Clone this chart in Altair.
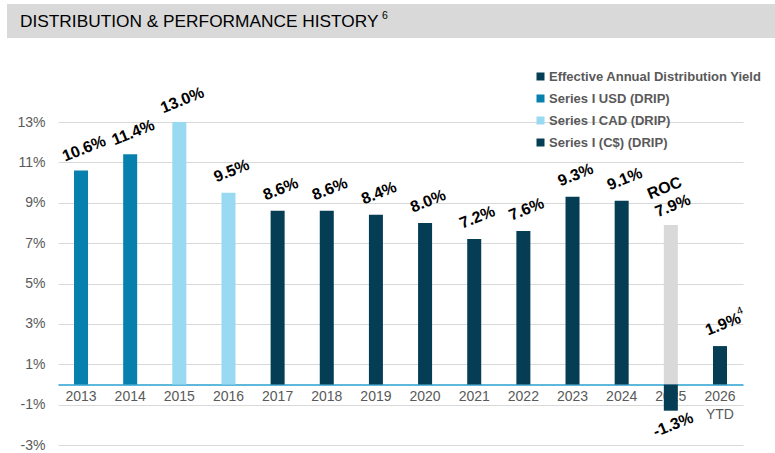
import altair as alt
import pandas as pd

years = ["2013", "2014", "2015", "2016", "2017", "2018", "2019", "2020",
         "2021", "2022", "2023", "2024", "2025", "2026"]
values = [10.6, 11.4, 13.0, 9.5, 8.6, 8.6, 8.4, 8.0, 7.2, 7.6, 9.3, 9.1, -1.3, 1.9]
series = ["Series I USD (DRIP)", "Series I USD (DRIP)",
          "Series I CAD (DRIP)", "Series I CAD (DRIP)"] + ["Series I (C$) (DRIP)"] * 10
labels = ["10.6%", "11.4%", "13.0%", "9.5%", "8.6%", "8.6%", "8.4%", "8.0%",
          "7.2%", "7.6%", "9.3%", "9.1%", "-1.3%", "1.9%"]
footnotes = ["", "", "", "", "", "", "", "", "", "", "", "", "", "4"]
roc_year = ["2025"]
roc_value = [7.9]
roc_label = ["7.9%"]

legend_names = ["Effective Annual Distribution Yield", "Series I USD (DRIP)",
                "Series I CAD (DRIP)", "Series I (C$) (DRIP)"]
legend_colors = ["#053D55", "#0780AE", "#99D9F2", "#053D55"]

y_ticks = [-3, -1, 1, 3, 5, 7, 9, 11, 13]

df = pd.DataFrame({"year": years, "value": values, "series": series,
                   "label": labels, "note": footnotes})
roc = pd.DataFrame({"year": roc_year, "value": roc_value, "label": roc_label})

FONT = "Liberation Sans"

x_enc = alt.X("year:N", sort=years,
              scale=alt.Scale(paddingInner=0.715, paddingOuter=0.326),
              axis=alt.Axis(title=None, labelAngle=0, offset=-60.5,
                            labelExpr="datum.value == '2026' ? ['2026', 'YTD'] : datum.value",
                            labelFontSize=14, labelColor="#595959", labelFont=FONT,
                            labelPadding=5, ticks=False, domainColor="#27A0CF",
                            domainWidth=1.5, grid=False, labelLineHeight=18))
y_scale = alt.Scale(domain=[-3, 13], nice=False, zero=False)
y_enc = alt.Y("value:Q", scale=y_scale,
              axis=alt.Axis(title=None, values=y_ticks, format=".0f",
                            labelExpr="datum.value + '%'",
                            labelFontSize=14, labelColor="#595959", labelFont=FONT,
                            labelPadding=13, ticks=False, domain=False,
                            gridColor="#D9D9D9", gridWidth=1))

base = alt.Chart(df)
one = "datum.year == '2013'"

title_bar = base.mark_rect(color="#D9D9D9").encode(
    x=alt.value(-51), x2=alt.value(717), y=alt.value(-118), y2=alt.value(-84)
).transform_filter(one)

title_text = base.mark_text(
    text="DISTRIBUTION & PERFORMANCE HISTORY", align="left", baseline="middle",
    fontSize=17.3, font=FONT, color="#000000"
).encode(x=alt.value(-38), y=alt.value(-100)).transform_filter(one)

title_sup = base.mark_text(
    text="6", align="left", baseline="middle",
    fontSize=10.5, font=FONT, color="#000000"
).encode(x=alt.value(324), y=alt.value(-106)).transform_filter(one)

roc_bar = alt.Chart(roc).mark_bar(color="#D9D9D9").encode(
    x=x_enc, y=y_enc, y2=alt.datum(0))

bars = base.mark_bar().encode(
    x=x_enc, y=y_enc, y2=alt.datum(0),
    color=alt.Color("series:N",
                    scale=alt.Scale(domain=legend_names, range=legend_colors),
                    legend=alt.Legend(title=None, orient="none", legendX=476, legendY=-52,
                                      symbolType="square", symbolSize=64,
                                      symbolStrokeWidth=0,
                                      labelFontSize=13, labelFontWeight="bold",
                                      labelColor="#595959", labelFont=FONT,
                                      rowPadding=8, labelOffset=2, labelLimit=300)))

lab_style = dict(fontSize=16, fontWeight="bold", font=FONT, color="#000000",
                 angle=338, align="center", baseline="middle")

pos_labels = base.mark_text(dx=11, dy=-19, **lab_style).encode(
    x=x_enc, y=y_enc, text="label:N").transform_filter("datum.value > 0")

note_labels = base.mark_text(dx=31.5, dy=-25, fontSize=10.5, font=FONT, color="#000000",
                             angle=338, align="center", baseline="middle").encode(
    x=x_enc, y=y_enc, text="note:N").transform_filter("datum.note != ''")

neg_labels = base.mark_text(dx=-3, dy=14, **lab_style).encode(
    x=x_enc, y=y_enc, text="label:N").transform_filter("datum.value < 0")

roc_val_label = alt.Chart(roc).mark_text(dx=9, dy=-17, **lab_style).encode(
    x=x_enc, y=y_enc, text="label:N")

roc_text_label = alt.Chart(roc).mark_text(dx=8, dy=-36.5, text="ROC", **lab_style).encode(
    x=x_enc, y=y_enc)

chart = alt.layer(
    title_bar, title_text, title_sup, roc_bar, bars, pos_labels, note_labels,
    neg_labels, roc_val_label, roc_text_label
).properties(
    width=685, height=323,
    autosize=alt.AutoSizeParams(type="none"),
    padding={"left": 58, "top": 122, "right": 32, "bottom": 8},
    background="#FFFFFF"
).configure_view(stroke=None)

chart.save("out.html", embed_options={"renderer": "svg", "actions": False})
